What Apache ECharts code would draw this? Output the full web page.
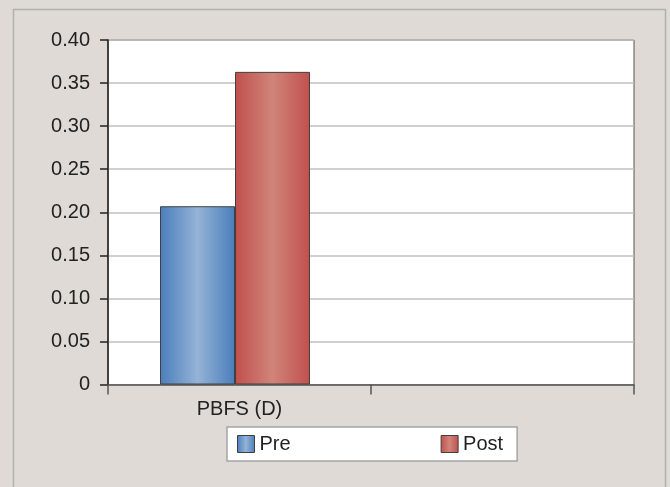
<!DOCTYPE html>
<html>
<head>
<meta charset="utf-8">
<script src="https://cdn.jsdelivr.net/npm/echarts@6/dist/echarts.min.js"></script>
<style>
  html, body { margin: 0; padding: 0; background: #dfdad5; }
  #main { width: 670px; height: 487px; }
</style>
</head>
<body>
<div id="main"></div>
<script>
  // data
  var categories = ['PBFS (D)', ''];
  var preValues = [0.207, null];
  var postValues = [0.363, null];
  var seriesNames = ['Pre', 'Post'];

  function barGradient(edge, mid) {
    return new echarts.graphic.LinearGradient(0, 0, 1, 0, [
      { offset: 0, color: edge },
      { offset: 0.5, color: mid },
      { offset: 1, color: edge }
    ]);
  }
  var blue = barGradient('#4a7ebb', '#95b3d7');
  var red = barGradient('#c0504d', '#d0847a');

  var chart = echarts.init(document.getElementById('main'));
  chart.setOption({
    backgroundColor: '#dfdad5',
    animation: false,
    textStyle: { fontFamily: 'Liberation Sans, Arial, sans-serif' },
    graphic: [{
      type: 'rect',
      shape: { x: 13.5, y: 9.5, width: 652, height: 490 },
      style: { fill: 'none', stroke: '#b0b0b0', lineWidth: 1.5 },
      z: -1
    }],
    grid: {
      left: 108, right: 36, top: 40, bottom: 102.5,
      show: true, backgroundColor: '#ffffff', borderColor: '#555555', borderWidth: 1
    },
    legend: {
      left: 227, top: 427,
      data: [
        { name: 'Pre', itemStyle: { color: blue, borderColor: '#404040', borderWidth: 1 } },
        { name: 'Post', itemStyle: { color: red, borderColor: '#404040', borderWidth: 1 } }
      ],
      icon: 'rect',
      itemWidth: 17, itemHeight: 17,
      itemGap: 150,
      padding: [7, 14, 7, 10],
      backgroundColor: '#ffffff',
      borderColor: '#a5a5a5', borderWidth: 1.5, borderRadius: 0,
      textStyle: { fontSize: 20, color: '#222222' }
    },
    xAxis: {
      type: 'category',
      data: categories,
      axisLine: { lineStyle: { color: '#555555', width: 1.5 } },
      axisTick: { show: true, length: 10, lineStyle: { color: '#555555', width: 1.5 } },
      axisLabel: { fontSize: 20, color: '#222222', margin: 15 }
    },
    yAxis: {
      type: 'value',
      min: 0, max: 0.4, interval: 0.05,
      axisLine: { show: true, lineStyle: { color: '#222222', width: 1.5 } },
      axisTick: { show: true, length: 8, lineStyle: { color: '#222222', width: 1.5 } },
      axisLabel: {
        fontSize: 20, color: '#222222', margin: 18,
        formatter: function (v) { return v === 0 ? '0' : v.toFixed(2); }
      },
      splitLine: { lineStyle: { color: '#c0c0c0', width: 1.5 } }
    },
    series: [
      {
        name: seriesNames[0], type: 'bar', data: preValues,
        barWidth: 75, barGap: '0%',
        itemStyle: { color: blue, borderColor: '#404040', borderWidth: 1 }
      },
      {
        name: seriesNames[1], type: 'bar', data: postValues,
        barWidth: 75, barGap: '0%',
        itemStyle: { color: red, borderColor: '#404040', borderWidth: 1 }
      },
      {
        // empty spacer so the pair sits slightly left of the category centre
        name: 'spacer', type: 'bar', data: [null, null],
        barWidth: 9, barGap: '0%', silent: true
      }
    ]
  });
</script>
</body>
</html>
